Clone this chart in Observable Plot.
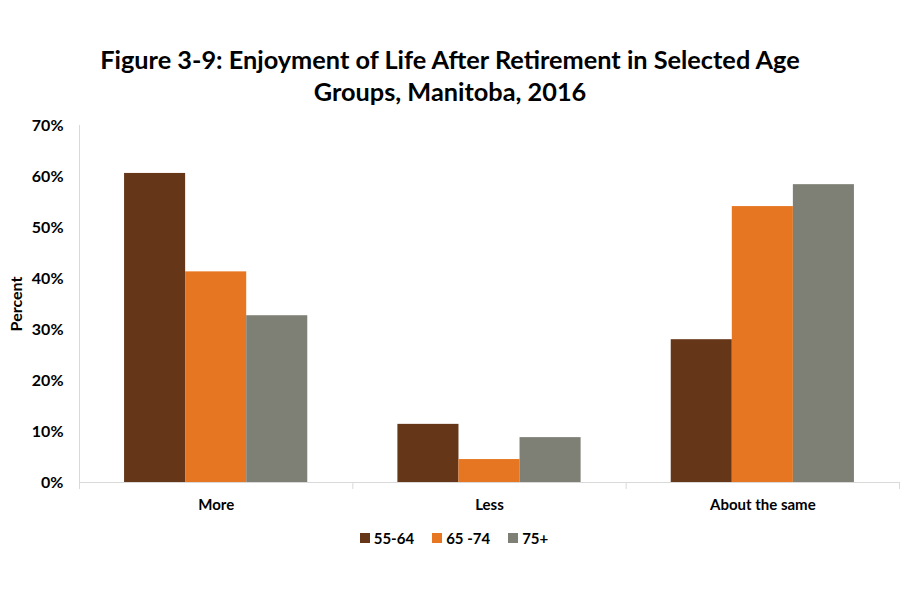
<!DOCTYPE html>
<html>
<head>
<meta charset="utf-8">
<script src="https://cdn.jsdelivr.net/npm/d3@7"></script>
<script src="https://cdn.jsdelivr.net/npm/@observablehq/plot@0.6"></script>
<style>
  body { margin: 0; background: #fff; width: 900px; height: 600px; position: relative; overflow: hidden; font-family: Lato, "Open Sans", sans-serif; }
  #title { position: absolute; top: 43px; left: 0; width: 900px; text-align: center; font-weight: bold; font-size: 25.3px; line-height: 32px; color: #000; }
  #chart { position: absolute; top: 110px; left: 0; }
  #legend { position: absolute; top: 528px; left: 4px; width: 900px; height: 20px; display: flex; justify-content: center; align-items: center; gap: 18px; font-weight: bold; font-size: 15px; color: #000; }
  #legend .item { display: flex; align-items: center; gap: 4px; }
  #legend .sw { width: 10px; height: 10px; display: inline-block; }
</style>
</head>
<body>
<div id="title">Figure 3-9: Enjoyment of Life After Retirement in Selected Age<br>Groups, Manitoba, 2016</div>
<div id="chart"></div>
<div id="legend"></div>
<script>
const categories = ["More", "Less", "About the same"];
const groups = ["55-64", "65 -74", "75+"];
const values5564 = [60.6, 11.4, 28.0];
const values6574 = [41.3, 4.5, 54.1];
const values75 = [32.7, 8.8, 58.4];
const colors = ["#653618", "#E67621", "#7E7F75"];
const yTicks = [0, 10, 20, 30, 40, 50, 60, 70];

const series = [values5564, values6574, values75];
const rows = [];
categories.forEach((c, i) => {
  groups.forEach((g, j) => rows.push({category: c, group: g, value: series[j][i]}));
});

const plot = Plot.plot({
  width: 900,
  height: 412,
  marginTop: 15,
  marginBottom: 40,
  marginLeft: 79,
  marginRight: 1,
  style: {fontFamily: "Lato, 'Open Sans', sans-serif", fontWeight: "bold", fontSize: "15px", color: "#000", background: "transparent"},
  fx: {domain: categories, paddingInner: 0, paddingOuter: 0, round: false, label: null},
  x: {domain: groups, paddingInner: 0, paddingOuter: 0.738, round: false, axis: null},
  y: {domain: [0, 70], ticks: yTicks},
  color: {domain: groups, range: colors},
  marks: [
    Plot.barY(rows, {fx: "category", x: "group", y: "value", fill: "group"}),
    Plot.ruleY([0], {stroke: "#d9d9d9", strokeWidth: 1}),
    Plot.frame({anchor: "left", stroke: "#d9d9d9", facetAnchor: "left"}),
    Plot.frame({anchor: "left", stroke: "#d9d9d9", insetTop: 357, insetBottom: -6}),
    Plot.frame({anchor: "right", stroke: "#d9d9d9", insetTop: 357, insetBottom: -6, facetAnchor: "right"}),
    Plot.axisY({ticks: yTicks, tickFormat: d => `${d}%`, tickSize: 0, tickPadding: 16, label: "Percent", labelAnchor: "center", labelArrow: "none", labelOffset: 69, fontSize: 16}),
    Plot.axisFx({anchor: "bottom", tickSize: 0, tickPadding: 17, label: null, fontSize: 15})
  ]
});
document.getElementById("chart").appendChild(plot);

const legend = document.getElementById("legend");
groups.forEach((g, j) => {
  const item = document.createElement("span");
  item.className = "item";
  const sw = document.createElement("span");
  sw.className = "sw";
  sw.style.background = colors[j];
  item.appendChild(sw);
  item.appendChild(document.createTextNode(g));
  legend.appendChild(item);
});
</script>
</body>
</html>
